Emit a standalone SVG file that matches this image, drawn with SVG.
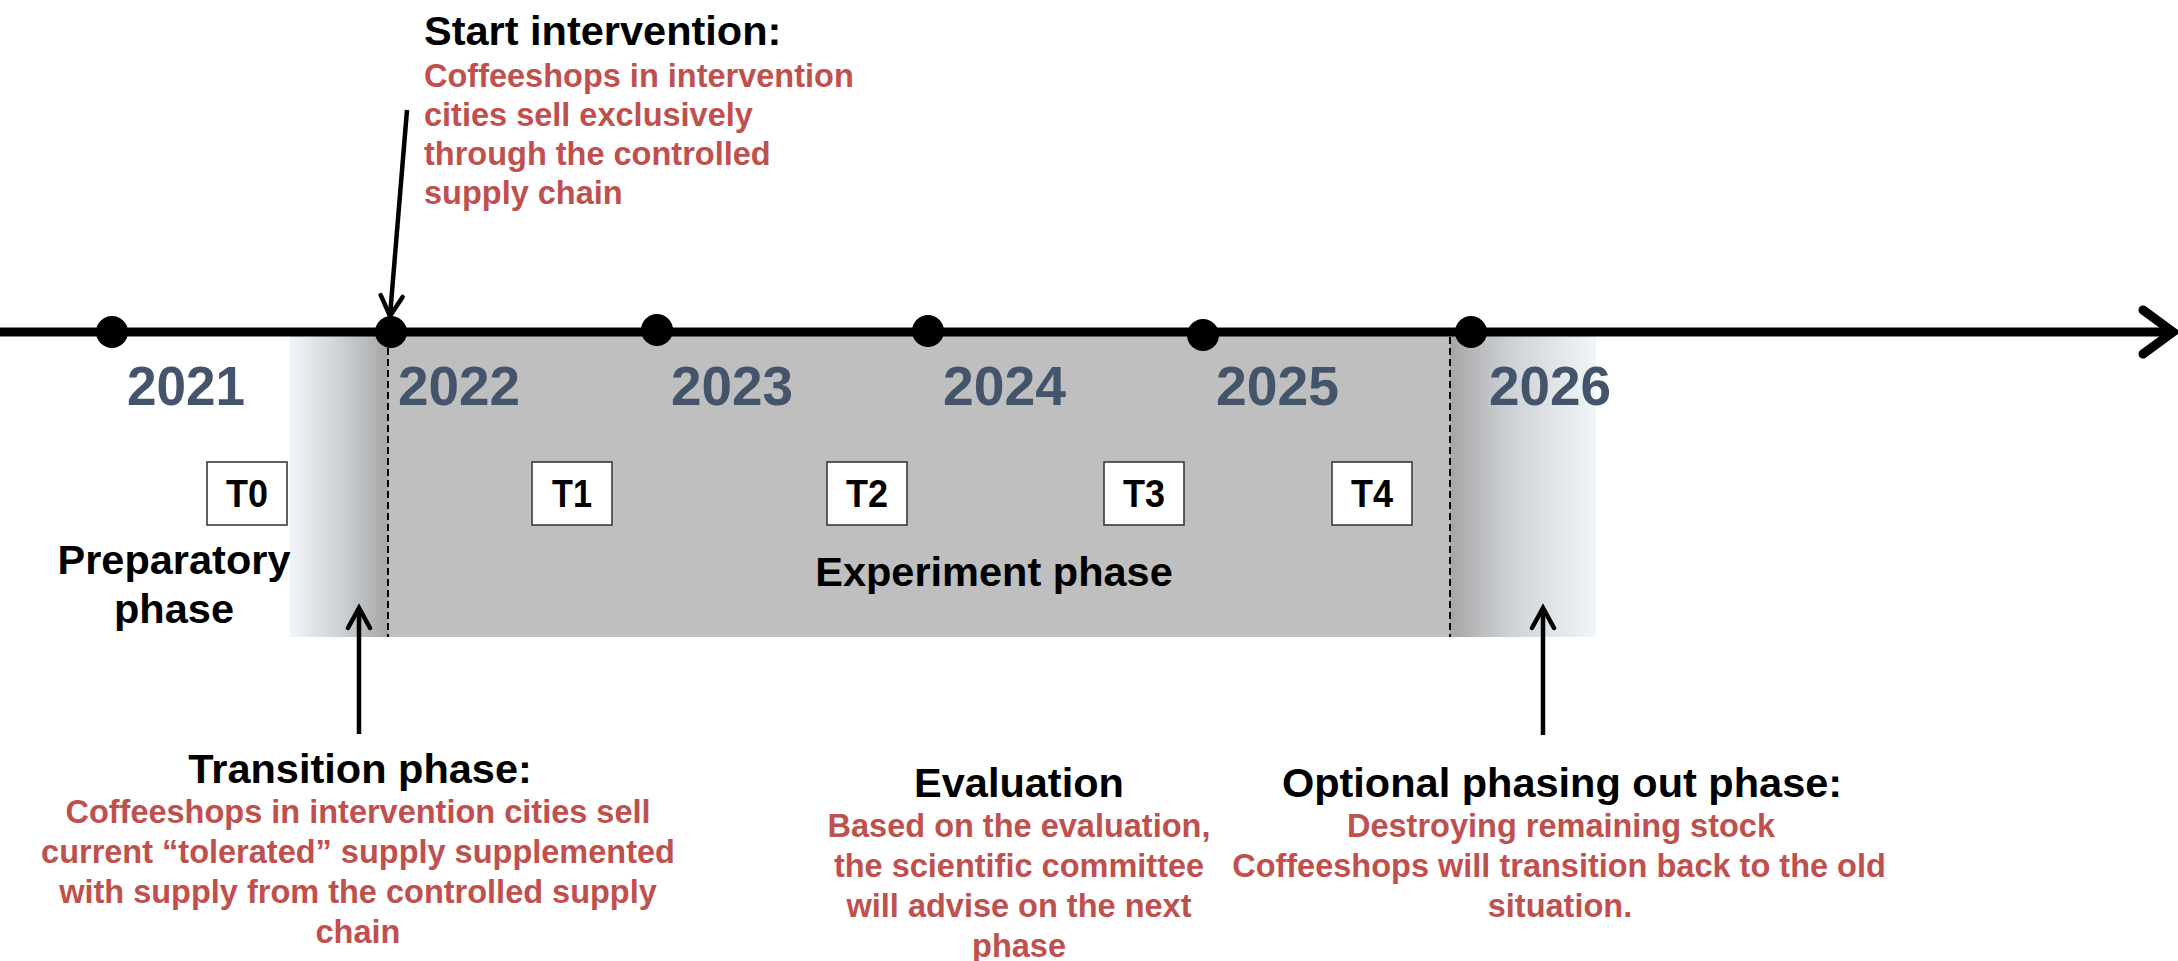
<svg xmlns="http://www.w3.org/2000/svg" width="2178" height="961" viewBox="0 0 2178 961">
  <style>
    .head { font-family: "Liberation Sans", Arial, sans-serif; font-weight: bold; font-size: 41.5px; fill: #000000; }
    .note { font-family: "Liberation Sans", Arial, sans-serif; font-weight: bold; font-size: 32.5px; fill: #c0504d; }
    .year { font-family: "Liberation Sans", Arial, sans-serif; font-weight: bold; font-size: 56px; fill: #44546a; }
    .tlab { font-family: "Liberation Sans", Arial, sans-serif; font-weight: bold; font-size: 38px; fill: #000000; text-anchor: middle; }
    .tbox { fill: #ffffff; stroke: #3a3a3a; stroke-width: 1.6; }
    .dash { stroke: #000000; stroke-width: 2; stroke-dasharray: 7 4; fill: none; }
    .dot { fill: #000000; }
    .ptr { stroke: #000000; stroke-width: 4.5; fill: none; marker-end: url(#chev); }
    .mid { text-anchor: middle; }
  </style>
  <defs>
    <linearGradient id="fadeIn" x1="0" y1="0" x2="1" y2="0">
      <stop offset="0" stop-color="#f1f4f8"/>
      <stop offset="0.5" stop-color="#ced2d6"/>
      <stop offset="1" stop-color="#a6a6a6"/>
    </linearGradient>
    <linearGradient id="fadeOut" x1="0" y1="0" x2="1" y2="0">
      <stop offset="0" stop-color="#a6a6a6"/>
      <stop offset="0.4" stop-color="#cdd1d5"/>
      <stop offset="1" stop-color="#f2f5f8"/>
    </linearGradient>
    <marker id="chev" markerUnits="userSpaceOnUse" viewBox="-4 -14 30 28" refX="20" refY="0" markerWidth="30" markerHeight="28" orient="auto">
      <path d="M0,-11 L20,0 L0,11" fill="none" stroke="#000000" stroke-width="4.5" stroke-linecap="round"/>
    </marker>
  </defs>

  <!-- phase bands -->
  <g id="bands">
    <rect x="290" y="336" width="99" height="301" fill="url(#fadeIn)"/>
    <rect x="388" y="336" width="1063" height="301" fill="#bfbfbf"/>
    <rect x="1450" y="336" width="146" height="301" fill="url(#fadeOut)"/>
    <line class="dash" x1="388" y1="337" x2="388" y2="637"/>
    <line class="dash" x1="1450" y1="337" x2="1450" y2="637"/>
  </g>

  <!-- timeline axis -->
  <g id="axis">
    <line x1="0" y1="332" x2="2172" y2="332" stroke="#000000" stroke-width="9"/>
    <polyline points="2143,310 2173,332 2143,354" fill="none" stroke="#000000" stroke-width="9" stroke-linecap="round" stroke-linejoin="miter"/>
    <circle class="dot" cx="112" cy="332" r="16"/>
    <circle class="dot" cx="391" cy="332" r="16"/>
    <circle class="dot" cx="657" cy="330" r="16"/>
    <circle class="dot" cx="928" cy="331" r="16"/>
    <circle class="dot" cx="1203" cy="335" r="16"/>
    <circle class="dot" cx="1471" cy="332" r="16"/>
  </g>

  <!-- years -->
  <g id="years">
    <text class="year" x="127" y="405" textLength="118" lengthAdjust="spacingAndGlyphs">2021</text>
    <text class="year" x="398" y="405" textLength="122" lengthAdjust="spacingAndGlyphs">2022</text>
    <text class="year" x="671" y="405" textLength="122" lengthAdjust="spacingAndGlyphs">2023</text>
    <text class="year" x="943" y="405" textLength="123" lengthAdjust="spacingAndGlyphs">2024</text>
    <text class="year" x="1216" y="405" textLength="123" lengthAdjust="spacingAndGlyphs">2025</text>
    <text class="year" x="1489" y="405" textLength="122" lengthAdjust="spacingAndGlyphs">2026</text>
  </g>

  <!-- measurement points -->
  <g id="t0"><rect class="tbox" x="207" y="462" width="80" height="63"/><text class="tlab" x="247" y="507" textLength="42" lengthAdjust="spacingAndGlyphs">T0</text></g>
  <g id="t1"><rect class="tbox" x="532" y="462" width="80" height="63"/><text class="tlab" x="572" y="507" textLength="40" lengthAdjust="spacingAndGlyphs">T1</text></g>
  <g id="t2"><rect class="tbox" x="827" y="462" width="80" height="63"/><text class="tlab" x="867" y="507" textLength="42" lengthAdjust="spacingAndGlyphs">T2</text></g>
  <g id="t3"><rect class="tbox" x="1104" y="462" width="80" height="63"/><text class="tlab" x="1144" y="507" textLength="42" lengthAdjust="spacingAndGlyphs">T3</text></g>
  <g id="t4"><rect class="tbox" x="1332" y="462" width="80" height="63"/><text class="tlab" x="1372" y="507" textLength="42" lengthAdjust="spacingAndGlyphs">T4</text></g>

  <!-- phase names -->
  <g id="preparatory">
    <text class="head mid" x="174" y="574">Preparatory</text>
    <text class="head mid" x="174" y="623">phase</text>
  </g>
  <g id="experiment">
    <text class="head mid" x="994" y="586">Experiment phase</text>
  </g>

  <!-- start of the intervention -->
  <g id="start-intervention">
    <text class="head" x="424" y="45">Start intervention:</text>
    <text class="note" x="424" y="87">Coffeeshops in intervention</text>
    <text class="note" x="424" y="126">cities sell exclusively</text>
    <text class="note" x="424" y="165">through the controlled</text>
    <text class="note" x="424" y="204">supply chain</text>
  </g>

  <!-- transition -->
  <g id="transition">
    <text class="head mid" x="360" y="783">Transition phase:</text>
    <text class="note mid" x="358" y="823">Coffeeshops in intervention cities sell</text>
    <text class="note mid" x="358" y="863">current “tolerated” supply supplemented</text>
    <text class="note mid" x="358" y="903">with supply from the controlled supply</text>
    <text class="note mid" x="358" y="943">chain</text>
  </g>

  <!-- evaluation -->
  <g id="evaluation">
    <text class="head mid" x="1019" y="797">Evaluation</text>
    <text class="note mid" x="1019" y="837">Based on the evaluation,</text>
    <text class="note mid" x="1019" y="877">the scientific committee</text>
    <text class="note mid" x="1019" y="917">will advise on the next</text>
    <text class="note mid" x="1019" y="957">phase</text>
  </g>

  <!-- phasing out -->
  <g id="phasing-out">
    <text class="head mid" x="1562" y="797">Optional phasing out phase:</text>
    <text class="note mid" x="1561" y="837">Destroying remaining stock</text>
    <text class="note mid" x="1559" y="877">Coffeeshops will transition back to the old</text>
    <text class="note mid" x="1560" y="917">situation.</text>
  </g>

  <!-- pointers -->
  <g id="connectors">
    <line class="ptr" x1="407" y1="110" x2="390" y2="316"/>
    <line class="ptr" x1="359" y1="734" x2="359" y2="608"/>
    <line class="ptr" x1="1543" y1="735" x2="1543" y2="608"/>
  </g>
</svg>
